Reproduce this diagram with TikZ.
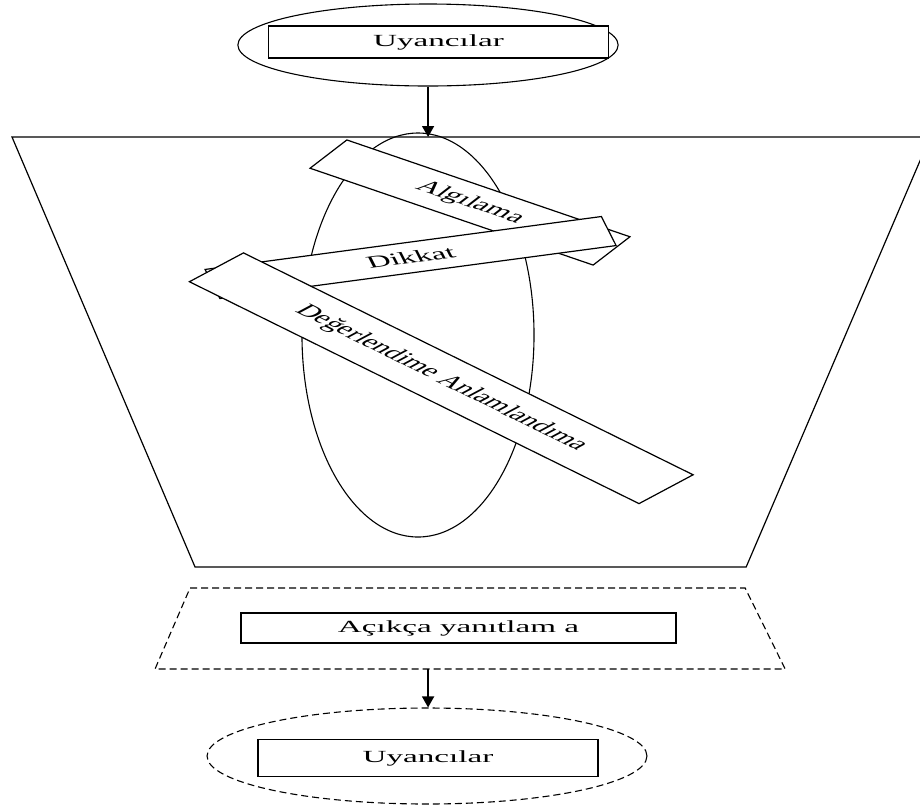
\documentclass[tikz,border=0pt]{standalone}
\usepackage{fontspec}
\setmainfont{Liberation Serif}
\usetikzlibrary{shapes.geometric,arrows.meta}
\begin{document}
\begin{tikzpicture}[x=0.51282pt,y=-1pt,xscale=1.95,transform shape]
\tikzstyle{every node}+=[inner sep=0pt, font=\fontsize{17}{19}\selectfont]
\tikzstyle{box}=[draw, fill=white, line width=1.2pt]
\tikzstyle{kesik}=[line width=1.1pt, dash pattern=on 7pt off 4pt]
\tikzstyle{ok}=[line width=1.4pt, -{Triangle[length=11pt,width=12pt]}]
\clip (0,0) rectangle (920,807);
% huni
\coordinate (htl) at (12,137);
\coordinate (htr) at (930,137);
\coordinate (hbr) at (746,567);
\coordinate (hbl) at (195,567);
\draw [line width=1.2pt] (htl) -- (htr) -- (hbr) -- (hbl) -- cycle;
\node [draw, ellipse, line width=1.1pt, minimum width=119pt, minimum height=404pt] (zihin) at (418,335) {};
\node [box, rotate=-33.7, minimum width=174.5pt, minimum height=34pt] (algi) at (470,202.5) {Algılama};
\node [box, rotate=14.6, minimum width=210pt, minimum height=30pt] (dikkat) at (410.6,257.5) {Dikkat};
\node [box, rotate=-43.9, minimum width=320pt, minimum height=40pt] (deger) at (441.25,378.25) {Değerlendime Anlamlandıma};
% giris
\node [draw, ellipse, line width=1.1pt, minimum width=195pt, minimum height=82pt] (kaynak) at (428,45) {};
\node [box, minimum width=174pt, minimum height=32pt] (uyan1) at (438.5,42) {Uyancılar};
\draw [ok] (kaynak.south) -- (kaynak.south |- htl);
% cikis
\coordinate (ytl) at (190,588);
\coordinate (ytr) at (745,588);
\coordinate (ybr) at (785,669);
\coordinate (ybl) at (155,669);
\draw [kesik] (ytl) -- (ytr) -- (ybr) -- (ybl) -- cycle;
\node [box, minimum width=223pt, minimum height=30pt] (acik) at (458.5,628) {Açıkça yanıtlam a};
\node [draw, kesik, ellipse, minimum width=225.6pt, minimum height=96pt] (sonuc) at (427,756) {};
\node [box, minimum width=174.4pt, minimum height=37pt] (uyan2) at (428,758) {Uyancılar};
\coordinate (yanit) at (428,669);
\draw [ok] (yanit) -- (yanit |- sonuc.north);
\end{tikzpicture}
\end{document}
